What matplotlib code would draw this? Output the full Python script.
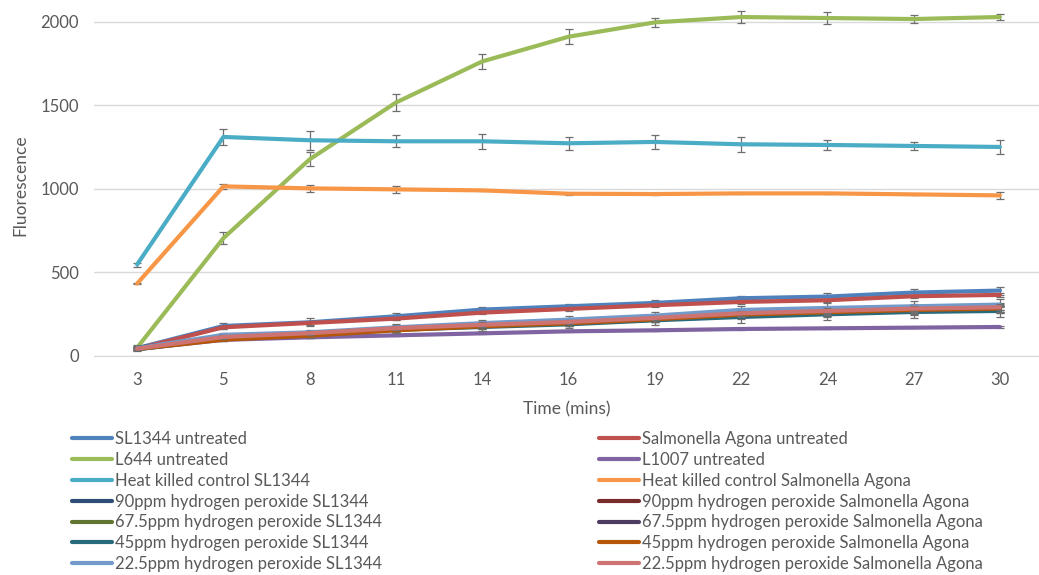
import matplotlib
matplotlib.use("Agg")
import matplotlib.pyplot as plt
import numpy as np

plt.rcParams['font.family'] = ['Lato', 'DejaVu Sans']

times = ["3", "5", "8", "11", "14", "16", "19", "22", "24", "27", "30"]

names = [
    "SL1344 untreated", "Salmonella Agona untreated",
    "L644 untreated", "L1007 untreated",
    "Heat killed control SL1344", "Heat killed control Salmonella Agona",
    "90ppm hydrogen peroxide SL1344", "90ppm hydrogen peroxide Salmonella Agona",
    "67.5ppm hydrogen peroxide SL1344", "67.5ppm hydrogen peroxide Salmonella Agona",
    "45ppm hydrogen peroxide SL1344", "45ppm hydrogen peroxide Salmonella Agona",
    "22.5ppm hydrogen peroxide SL1344", "22.5ppm hydrogen peroxide Salmonella Agona",
]

sl1344_untreated = [45, 178, 200, 236, 276, 296, 316, 344, 354, 378, 390]
agona_untreated = [42, 170, 196, 222, 258, 280, 302, 322, 332, 356, 364]
l644_untreated = [48, 704, 1176, 1516, 1762, 1910, 1996, 2028, 2022, 2016, 2028]
l1007_untreated = [40, 95, 110, 122, 134, 146, 152, 160, 164, 168, 172]
hk_sl1344 = [546, 1310, 1290, 1284, 1284, 1272, 1280, 1266, 1262, 1256, 1250]
hk_agona = [432, 1014, 1002, 996, 990, 970, 968, 972, 972, 966, 960]
h90_sl1344 = [48, 112, 132, 162, 182, 200, 222, 248, 262, 276, 284]
h90_agona = [45, 110, 130, 160, 180, 198, 220, 244, 258, 272, 282]
h675_sl1344 = [42, 106, 127, 158, 178, 194, 216, 240, 254, 268, 276]
h675_agona = [44, 108, 129, 160, 179, 196, 218, 242, 256, 270, 279]
h45_sl1344 = [38, 102, 122, 155, 172, 188, 212, 232, 248, 262, 268]
h45_agona = [40, 96, 120, 152, 176, 194, 218, 246, 260, 274, 282]
h225_sl1344 = [45, 125, 140, 170, 195, 216, 240, 274, 286, 296, 306]
h225_agona = [42, 112, 135, 165, 185, 202, 226, 254, 268, 282, 290]

err_sl1344_untreated = [10, 20, 24, 20, 14, 15, 15, 16, 20, 24, 24]
err_agona_untreated = [8, 10, 10, 10, 10, 10, 10, 10, 10, 10, 10]
err_l644 = [15, 35, 41, 49, 47, 46, 26, 38, 38, 26, 20]
err_l1007 = [5, 5, 5, 5, 5, 5, 5, 5, 5, 5, 5]
err_hk_sl1344 = [12, 48, 57, 37, 46, 38, 41, 44, 31, 25, 40]
err_hk_agona = [5, 16, 22, 21, 5, 5, 5, 5, 5, 5, 23]
err_h90_sl1344 = [10, 12, 14, 20, 22, 20, 20, 30, 30, 32, 30]
err_h90_agona = [8, 10, 10, 12, 14, 14, 14, 16, 16, 18, 18]
err_h675_sl1344 = [8, 10, 10, 12, 14, 14, 14, 16, 16, 18, 18]
err_h675_agona = [8, 10, 10, 12, 14, 14, 14, 16, 16, 18, 18]
err_h45_sl1344 = [10, 14, 16, 20, 24, 24, 26, 34, 34, 38, 34]
err_h45_agona = [8, 10, 10, 12, 14, 14, 14, 16, 16, 18, 18]
err_h225_sl1344 = [10, 12, 14, 18, 20, 20, 22, 26, 28, 30, 32]
err_h225_agona = [8, 10, 10, 12, 14, 14, 14, 16, 16, 18, 18]

values = [sl1344_untreated, agona_untreated, l644_untreated, l1007_untreated,
          hk_sl1344, hk_agona, h90_sl1344, h90_agona, h675_sl1344, h675_agona,
          h45_sl1344, h45_agona, h225_sl1344, h225_agona]
errors = [err_sl1344_untreated, err_agona_untreated, err_l644, err_l1007,
          err_hk_sl1344, err_hk_agona, err_h90_sl1344, err_h90_agona,
          err_h675_sl1344, err_h675_agona, err_h45_sl1344, err_h45_agona,
          err_h225_sl1344, err_h225_agona]
colors = ["#4F81BD", "#C0504D", "#9BBB59", "#8064A2", "#4BACC6", "#F79646",
          "#2C4D75", "#772C2A", "#5F7530", "#4D3B62", "#276A7C", "#B65708",
          "#729ACA", "#CD7371"]

W, H = 1039, 575
fig = plt.figure(figsize=(W / 100, H / 100), dpi=100)
ax = fig.add_axes([94 / W, 1 - 355.7 / H, 949 / W, 355.7 / H])

x = np.arange(len(times))
lines = []
for i, (v, e, c, n) in enumerate(zip(values, errors, colors, names)):
    ax.errorbar(x, v, yerr=e, fmt='none', ecolor='#6E6E6E', elinewidth=0.9,
                capsize=3.2, capthick=0.9, zorder=3 + 2 * i)
    ln, = ax.plot(x, v, color=c, lw=3.0, solid_capstyle='round',
                  solid_joinstyle='round', label=n, zorder=4 + 2 * i)
    lines.append(ln)

ax.set_xlim(-0.5, len(times) - 0.5)
ax.set_ylim(0, 2130)
ax.set_yticks([0, 500, 1000, 1500, 2000])
ax.set_xticks(x)
ax.set_xticklabels(times)
ax.grid(axis='y', color='#D9D9D9', lw=1.0)
ax.set_axisbelow(True)
for s in ['top', 'right', 'left']:
    ax.spines[s].set_visible(False)
ax.spines['bottom'].set_color('#D9D9D9')
ax.tick_params(length=0, labelsize=12, colors='#595959')
ax.tick_params(axis='y', pad=11)
ax.tick_params(axis='x', pad=12)

fig.text(567 / W, 1 - 409 / H, "Time (mins)", ha='center', va='center',
         fontsize=12.5, color='#595959')
fig.text(20 / W, 1 - 185 / H, "Fluorescence", ha='center', va='center',
         rotation=90, fontsize=12.5, color='#595959')

left = [lines[i] for i in range(0, 14, 2)]
right = [lines[i] for i in range(1, 14, 2)]
common = dict(frameon=False, fontsize=12, labelcolor='#595959',
              handlelength=2.4, handletextpad=0.18, labelspacing=0.29,
              borderpad=0, borderaxespad=0, loc='upper left')
fig.legend(handles=left, labels=[names[i] for i in range(0, 14, 2)],
           bbox_to_anchor=(72 / W, 1 - 431 / H), **common)
fig.legend(handles=right, labels=[names[i] for i in range(1, 14, 2)],
           bbox_to_anchor=(599 / W, 1 - 431 / H), **common)

fig.savefig("out.png", dpi=100)
